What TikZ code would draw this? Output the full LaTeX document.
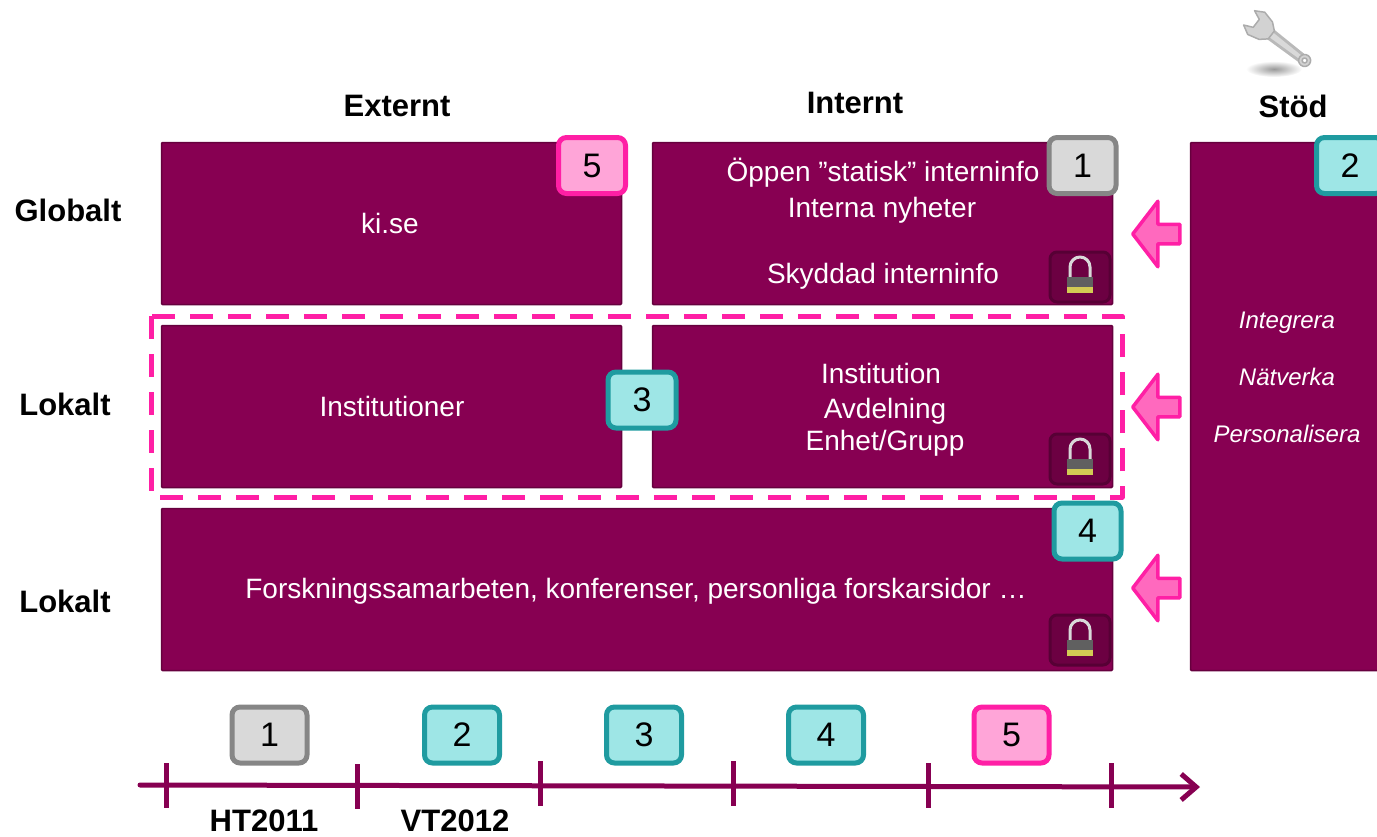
\documentclass[tikz,border=0pt]{standalone}
\usepackage{fontspec}
\setmainfont{Liberation Sans}
\usetikzlibrary{shapes.arrows,arrows.meta}
\definecolor{kiplum}{HTML}{870052}
\definecolor{kidark}{HTML}{66003E}
\definecolor{kipink}{HTML}{FF1FA5}
\definecolor{kirose}{HTML}{FF69BE}
\definecolor{kiteal}{HTML}{1F9BA0}
\definecolor{kiaqua}{HTML}{9EE6E6}
\newcommand{\textsz}[1]{\fontsize{#1}{#1}\selectfont}
\tikzset{
	panel/.style={draw=kidark, line width=1.5pt, fill=kiplum, rounded corners=1pt, inner sep=0pt},
	paneltext/.style={text=white, font=\textsz{28}, inner sep=0pt},
	sidetext/.style={text=white, font=\textsz{24}\itshape, inner sep=0pt},
	heading/.style={font=\textsz{31}\bfseries, inner sep=0pt},
	badge/.style={line width=5pt, rounded corners=8pt, minimum height=56pt, font=\textsz{34}, inner sep=0pt},
	greybadge/.style={badge, draw=gray!95, fill=gray!30},
	tealbadge/.style={badge, draw=kiteal, fill=kiaqua},
	pinkbadge/.style={badge, draw=kipink, fill=kirose!60},
	pusharrow/.style={single arrow, shape border rotate=180, draw=kipink, fill=kirose, line width=3.5pt,
		minimum height=47pt, inner xsep=0pt, inner ysep=8pt, single arrow head extend=23pt, single arrow tip angle=105},
	lockbox/.style={draw=kidark!85!black, line width=3pt, fill=kiplum!80!black, rounded corners=7pt,
		minimum width=60pt, minimum height=50pt, inner sep=0pt},
}
\begin{document}
\begin{tikzpicture}[x=1pt, y=-1pt, line join=round]
	\useasboundingbox (0,0) rectangle (1377,836);
	\clip (0,0) rectangle (1377,836);
	% panels
	\foreach \n/\x/\y/\w/\h in {extglobal/391.5/223.5/460/162, intglobal/882.5/223.5/460/162,
		extlocal/391.5/406.5/460/162, intlocal/882.5/406.5/460/162,
		research/637/589.5/951/162, support/1300/406.5/219/528}{
		\node[panel, minimum width=\w pt, minimum height=\h pt] (\n) at (\x,\y) {};}
	% dashed frame
	\draw[kipink, line width=5pt, dash pattern=on 23pt off 15pt] (151,316) rectangle (1122,497);
	% panel texts
	\node[paneltext] (kise) at (390,223) {ki.se};
	\node[paneltext] (open) at (883,173) {Öppen ”statisk” interninfo};
	\node[paneltext] (news) at (882,210) {Interna nyheter};
	\node[paneltext] (prot) at (883,276) {Skyddad interninfo};
	\node[paneltext] (inst) at (392,406) {Institutioner};
	\node[paneltext] (dept) at (881,373) {Institution};
	\node[paneltext] (divi) at (885,411) {Avdelning};
	\node[paneltext] (unit) at (885,443) {Enhet/Grupp};
	\node[paneltext] (coop) at (636,591) {Forskningssamarbeten, konferenser, personliga forskarsidor …};
	\foreach \n/\t/\y in {integ/Integrera/323, netw/Nätverka/377, pers/Personalisera/434}{
		\node[sidetext] (\n) at (1287,\y) {\t};}
	% headings
	\node[heading] (ext) at (397,106) {Externt};
	\node[heading] (int) at (855,103) {Internt};
	\node[heading] (sup) at (1293,106) {Stöd};
	\node[heading] (glob) at (68,210) {Globalt};
	\node[heading] (loca) at (65,404) {Lokalt};
	\node[heading] (locb) at (65,601) {Lokalt};
	% locks
	\foreach \n/\x/\y in {locka/1080/277, lockb/1080/459, lockc/1080/640}{
		\node[lockbox] (\n) at (\x,\y) {};
		\draw[gray!30, line width=3pt] (\x-10,\y+2) -- (\x-10,\y-10) arc (180:360:10) -- (\x+10,\y+2);
		\fill[gray!75!black] (\x-13,\y) rectangle (\x+13,\y+10);
		\fill[yellow!60!gray] (\x-13,\y+10) rectangle (\x+13,\y+16);
	}
	% badges
	\node[pinkbadge, minimum width=67pt] (bfive) at (592,165.5) {5};
	\node[greybadge, minimum width=67pt] (bone) at (1082.5,165.5) {1};
	\node[tealbadge, minimum width=67pt] (btwo) at (1350,165.5) {2};
	\node[tealbadge, minimum width=68pt] (bthree) at (642,400) {3};
	\node[tealbadge, minimum width=67pt] (bfour) at (1087.5,531) {4};
	% push arrows
	\foreach \n/\y in {pusha/234, pushb/407, pushc/588}{
		\node[pusharrow] (\n) at (1160,\y) {};}
	% wrench
	\shade[inner color=gray!80, outer color=white] (1274,69) ellipse (28 and 8);
	\begin{scope}[shift={(1261,27)}, rotate=-37.5]
		\fill[gray!55] (10,-6) -- (52,-5) -- (52,5) -- (10,6) -- cycle;
		\fill[gray!30] (12,-3) -- (50,-2) -- (50,2) -- (12,3) -- cycle;
		\filldraw[fill=gray!35, draw=gray!65, line width=1.5pt] (-15,-9) -- (-6,-14) -- (6,-11) -- (13,-5) -- (13,5) -- (6,11)
			-- (-6,14) -- (-15,9) -- (-6,5) -- (-6,-5) -- cycle;
		\filldraw[fill=gray!35, draw=gray!65, line width=1.5pt, even odd rule] (55,0) circle (6) (55,0) circle (2.5);
	\end{scope}
	% timeline
	\coordinate (start) at (140,785);
	\coordinate (stop) at (1200,787);
	\draw[kiplum, line width=5pt, line cap=round, -{Straight Barb[length=15pt,width=26pt]}] (start) -- (stop);
	\foreach \x/\a/\b in {166/763/808, 357/764/809, 540/761/806, 733/761/806, 928/763/808, 1111/763/808}{
		\draw[kiplum, line width=5pt] (\x,\a) -- (\x,\b);}
	\node[greybadge, minimum width=75pt] (tone) at (269.5,735) {1};
	\node[tealbadge, minimum width=75pt] (ttwo) at (462,735) {2};
	\node[tealbadge, minimum width=75pt] (tthree) at (644,735) {3};
	\node[tealbadge, minimum width=75pt] (tfour) at (826,735) {4};
	\node[pinkbadge, minimum width=75pt] (tfive) at (1011.5,735) {5};
	\node[heading] (ht) at (264,821) {HT2011};
	\node[heading] (vt) at (455,821) {VT2012};
\end{tikzpicture}
\end{document}
